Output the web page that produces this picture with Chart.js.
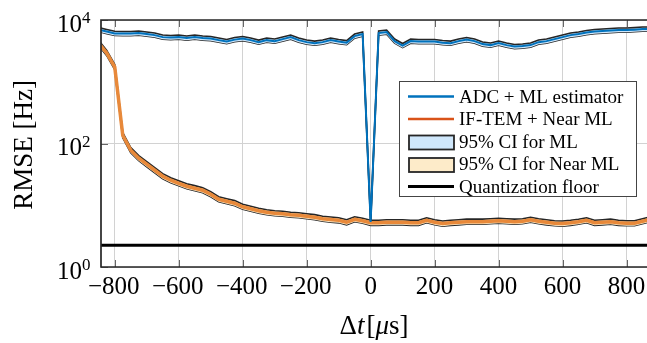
<!DOCTYPE html>
<html>
<head>
<meta charset="utf-8">
<script src="https://cdn.jsdelivr.net/npm/chart.js@4.4.1/dist/chart.umd.min.js"></script>
<style>
  html, body { margin: 0; padding: 0; background: #fff; }
  #wrap { width: 647px; height: 343px; overflow: hidden; }
  canvas { display: block; }
</style>
</head>
<body>
<div id="wrap"><canvas id="rmseChart" width="660" height="343"></canvas></div>
<script>
// time offsets in microseconds
const deltaT = [-850, -825, -800, -775, -750, -725, -700, -675, -650, -625,
  -600, -575, -550, -525, -500, -475, -450, -425, -400, -375,
  -350, -325, -300, -275, -250, -225, -200, -175, -150, -125,
  -100, -75, -50, -25, 0, 25, 50, 75, 100, 125,
  150, 175, 200, 225, 250, 275, 300, 325, 350, 375,
  400, 425, 450, 475, 500, 525, 550, 575, 600, 625,
  650, 675, 700, 725, 750, 775, 800, 825, 850, 875];

// ADC + ML estimator RMSE [Hz]
const rmseML = [6980, 6490, 6070, 6030, 6030, 6140, 5910, 5690, 5280, 5190,
  5280, 5090, 5280, 5090, 5000, 4720, 4470, 4810, 5000, 4720,
  4380, 4720, 4550, 4900, 5280, 4720, 4380, 4220, 4380, 4720,
  4470, 4300, 5480, 5910, 5.36, 6140, 6370, 4550, 3850, 4550,
  4470, 4470, 4470, 4300, 4220, 4550, 4810, 4550, 4070, 3920,
  4220, 3920, 3710, 3780, 3920, 4380, 4550, 4900, 5280, 5690,
  5910, 6250, 6490, 6610, 6730, 6860, 6860, 6980, 7120, 7120];

// IF-TEM + Near ML RMSE [Hz]
const rmseNearML = [4220, 2910, 1730, 136, 77.9, 57.8, 46.2, 36.9, 29.5, 25.4,
  22.7, 20.3, 18.9, 17.5, 15.1, 12.5, 11.6, 10.8, 9.46, 8.77,
  8.14, 7.70, 7.42, 7.28, 7.02, 6.89, 6.64, 6.40, 6.04, 5.86,
  5.71, 5.30, 5.93, 5.61, 5.20, 5.20, 5.30, 5.30, 5.30, 5.20,
  5.20, 5.71, 5.30, 5.05, 5.20, 5.30, 5.41, 5.41, 5.41, 5.51,
  5.61, 5.51, 5.41, 5.51, 5.82, 5.51, 5.30, 5.11, 5.05, 5.20,
  5.41, 5.71, 5.20, 5.30, 5.41, 5.20, 5.11, 5.11, 5.51, 5.93];

// 95% CI bound / mean
const mlCiRatio = 1.08;
const nearMlCiRatio = 1.10;

const quantFloor = 2.25;

const xTicks = [-800, -600, -400, -200, 0, 200, 400, 600, 800];
const yTicks = [1, 100, 10000];

const legendLabels = ['ADC + ML estimator', 'IF-TEM + Near ML', '95% CI for ML',
  '95% CI for Near ML', 'Quantization floor'];

const BLUE = '#0072BD';
const ORANGE = '#D95319';
const EDGE = '#262626';
const CI_BLUE = '#cfe7fb';
const CI_ORANGE = '#fdebc9';
const SERIF = '"Liberation Serif", "Times New Roman", serif';

const pts = (vals, k) => deltaT.map((t, i) => ({ x: t, y: vals[i] * k }));

// ticks, spines, labels and legend drawn on top
const overlay = {
  id: 'overlay',
  afterDraw(chart) {
    const { ctx, chartArea: a, scales: { x, y } } = chart;
    ctx.save();

    ctx.strokeStyle = '#666';
    ctx.lineWidth = 1;
    xTicks.forEach(v => {
      const px = Math.round(x.getPixelForValue(v)) + 0.5;
      ctx.beginPath();
      ctx.moveTo(px, a.bottom); ctx.lineTo(px, a.bottom - 7);
      ctx.moveTo(px, a.top); ctx.lineTo(px, a.top + 7);
      ctx.stroke();
    });
    yTicks.forEach(v => {
      const py = Math.round(y.getPixelForValue(v)) + 0.5;
      ctx.beginPath();
      ctx.moveTo(a.left, py); ctx.lineTo(a.left + 7, py);
      ctx.stroke();
    });

    ctx.strokeStyle = EDGE;
    ctx.lineWidth = 1.7;
    ctx.beginPath();
    ctx.moveTo(a.right + 5, a.top);
    ctx.lineTo(a.left, a.top);
    ctx.lineTo(a.left, a.bottom);
    ctx.lineTo(a.right + 5, a.bottom);
    ctx.stroke();

    ctx.fillStyle = '#000';
    ctx.textBaseline = 'alphabetic';
    ctx.font = '25px ' + SERIF;
    ctx.textAlign = 'center';
    xTicks.forEach(v => {
      const label = v < 0 ? '\u2212' + Math.abs(v) : String(v);
      ctx.fillText(label, x.getPixelForValue(v) + (v < 0 ? -1 : 0), a.bottom + 26.5);
    });

    yTicks.forEach(v => {
      const py = y.getPixelForValue(v);
      const exp = String(Math.round(Math.log10(v)));
      ctx.font = '17px ' + SERIF;
      const ew = ctx.measureText(exp).width;
      ctx.textAlign = 'left';
      ctx.fillText(exp, 90.5 - ew, py + 3);
      ctx.font = '25px ' + SERIF;
      ctx.textAlign = 'right';
      ctx.fillText('10', 90.5 - ew, py + 11.5);
    });

    // y title
    ctx.save();
    ctx.translate(32, 145);
    ctx.rotate(-Math.PI / 2);
    ctx.font = '27px ' + SERIF;
    ctx.textAlign = 'center';
    ctx.fillText('RMSE [Hz]', 0, 0);
    ctx.restore();

    // x title: Δt[µs]
    const parts = [['\u0394', ''], ['t', 'italic '], ['[', ''], ['\u03bc', 'italic '], ['s', ''], [']', '']];
    ctx.textAlign = 'left';
    let total = 0;
    const widths = parts.map(([s, st]) => {
      ctx.font = st + '27px ' + SERIF;
      const w = ctx.measureText(s).width + (s === 't' ? 2 : 0);
      total += w;
      return w;
    });
    let cx = 374 - total / 2;
    parts.forEach(([s, st], i) => {
      ctx.font = st + '27px ' + SERIF;
      ctx.fillText(s, cx, 334);
      cx += widths[i];
    });

    // legend
    const lx = 399.5, ly = 81.5, lw = 237, lh = 115;
    ctx.fillStyle = '#fff';
    ctx.fillRect(lx, ly, lw, lh);
    ctx.strokeStyle = '#444';
    ctx.lineWidth = 1;
    ctx.strokeRect(lx, ly, lw, lh);
    const rowY = [102.5, 125, 147.5, 170, 192.5];
    ctx.font = '19px ' + SERIF;
    legendLabels.forEach((lab, i) => {
      const by = rowY[i];
      if (i === 2 || i === 3) {
        ctx.fillStyle = i === 2 ? CI_BLUE : CI_ORANGE;
        ctx.fillRect(409, by - 12, 45, 14);
        ctx.strokeStyle = EDGE;
        ctx.lineWidth = 1.8;
        ctx.strokeRect(409, by - 12, 45, 14);
      } else {
        ctx.strokeStyle = i === 0 ? BLUE : i === 1 ? ORANGE : '#000';
        ctx.lineWidth = i === 4 ? 3 : 2.5;
        ctx.beginPath();
        ctx.moveTo(408, by - 6);
        ctx.lineTo(454, by - 6);
        ctx.stroke();
      }
      ctx.fillStyle = '#000';
      ctx.fillText(lab, 459, by);
    });

    ctx.restore();
  }
};

const ctx = document.getElementById('rmseChart').getContext('2d');
new Chart(ctx, {
  type: 'line',
  data: {
    datasets: [
      { data: pts(rmseML, 1), borderColor: BLUE, borderWidth: 2, order: 0 },
      { data: pts(rmseNearML, 1), borderColor: '#e8893a', borderWidth: 3.5, order: 0 },
      { data: pts(rmseML, mlCiRatio), borderColor: EDGE, borderWidth: 1.6,
        backgroundColor: CI_BLUE, fill: '+1', order: 1 },
      { data: pts(rmseML, 1 / mlCiRatio), borderColor: EDGE, borderWidth: 1.6, fill: false, order: 1 },
      { data: pts(rmseNearML, nearMlCiRatio), borderColor: EDGE, borderWidth: 1.6,
        backgroundColor: CI_ORANGE, fill: '+1', order: 1 },
      { data: pts(rmseNearML, 1 / nearMlCiRatio), borderColor: EDGE, borderWidth: 1.6, fill: false, order: 1 },
      { data: [{ x: -850, y: quantFloor }, { x: 875, y: quantFloor }],
        borderColor: '#000', borderWidth: 2.8, order: 2 }
    ]
  },
  options: {
    responsive: false,
    animation: false,
    parsing: false,
    elements: { point: { radius: 0 }, line: { tension: 0 } },
    layout: { padding: { left: 101, top: 20, right: 9.5, bottom: 76 } },
    plugins: { legend: { display: false }, tooltip: { enabled: false } },
    scales: {
      x: {
        type: 'linear', min: -843, max: 875,
        afterBuildTicks: s => { s.ticks = xTicks.map(v => ({ value: v })); },
        afterFit: s => { s.height = 0; },
        ticks: { display: false },
        grid: { color: '#d2d2d2', lineWidth: 1, drawTicks: false },
        border: { display: false }
      },
      y: {
        type: 'logarithmic', min: 1, max: 10000,
        afterBuildTicks: s => { s.ticks = yTicks.map(v => ({ value: v })); },
        afterFit: s => { s.width = 0; },
        ticks: { display: false },
        grid: { color: '#d2d2d2', lineWidth: 1, drawTicks: false },
        border: { display: false }
      }
    }
  },
  plugins: [overlay]
});
</script>
</body>
</html>
